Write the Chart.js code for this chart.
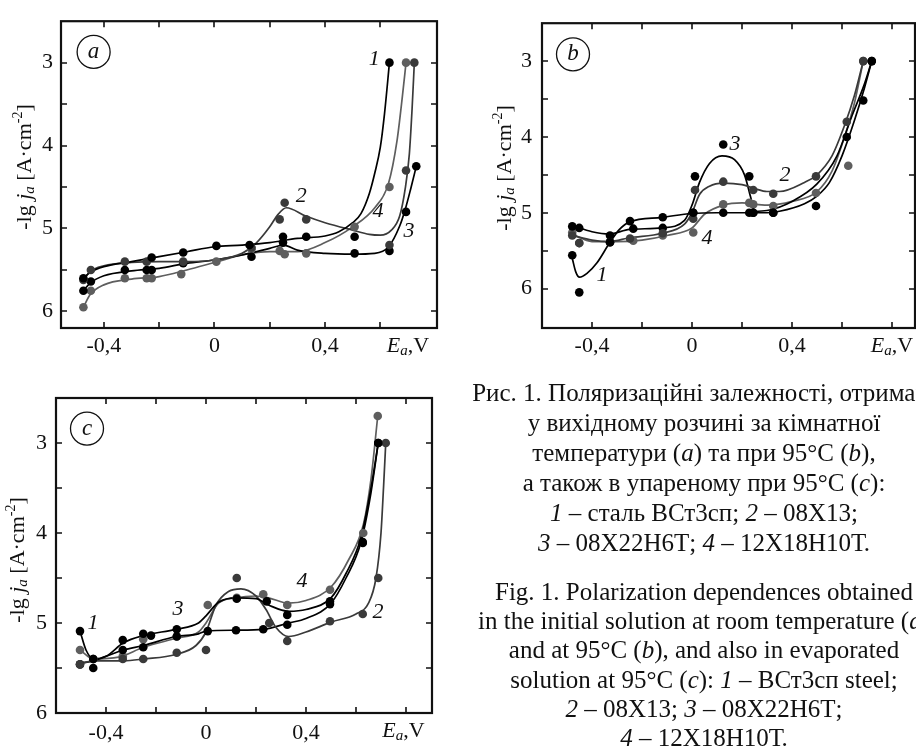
<!DOCTYPE html>
<html>
<head>
<meta charset="utf-8">
<script src="https://cdn.jsdelivr.net/npm/chart.js@4/dist/chart.umd.min.js"></script>
<style>
html,body{margin:0;padding:0;background:#fff;width:916px;height:746px;overflow:hidden;position:relative;}
canvas{position:absolute;}
.cap{position:absolute;left:354px;width:700px;text-align:center;white-space:nowrap;font-family:"Liberation Serif","Times New Roman",serif;font-size:25px;color:#111;pointer-events:none;}
</style>
</head>
<body>
<canvas id="ca" width="460" height="365" style="left:0;top:0"></canvas>
<canvas id="cb" width="456" height="365" style="left:460px;top:0"></canvas>
<canvas id="cc" width="460" height="376" style="left:0;top:370px"></canvas>
<div class="cap" style="top:378px;line-height:30px">
Рис. 1. Поляризаційні залежності, отримані<br>
у вихідному розчині за кімнатної<br>
температури (<i>a</i>) та при 95°C (<i>b</i>),<br>
а також в упареному при 95°C (<i>c</i>):<br>
<i>1</i> – сталь ВСт3сп; <i>2</i> – 08Х13;<br>
<i>3</i> – 08Х22Н6Т; <i>4</i> – 12Х18Н10Т.
</div>
<div class="cap" style="top:577px;line-height:29.2px">
Fig. 1. Polarization dependences obtained<br>
in the initial solution at room temperature (<i>a</i>)<br>
and at 95°C (<i>b</i>), and also in evaporated<br>
solution at 95°C (<i>c</i>): <i>1</i> – ВСт3сп steel;<br>
<i>2</i> – 08Х13; <i>3</i> – 08Х22Н6Т;<br>
<i>4</i> – 12Х18Н10Т.
</div>
<script>
// ---------- axis ticks ----------
const X_TICKS = [-0.4, -0.2, 0, 0.2, 0.4, 0.6, 0.8];
const X_LABELED = [-0.4, 0, 0.4];
const Y_TICKS = [3, 3.5, 4, 4.5, 5, 5.5, 6];
const Y_LABELED = [3, 4, 5, 6];
const SERIES = ['1', '2', '3', '4'];
const COLORS = ['#000000', '#3a3a3a', '#000000', '#5e5e5e'];

// ---------- panel a: measured points ----------
const aPts1 = [[-0.474,5.60],[-0.227,5.35],[-0.113,5.29],[0.007,5.21],[0.127,5.20],[0.248,5.10],[0.332,5.10],[0.507,5.10],[0.633,3.00]];
const aPts2 = [[-0.474,5.62],[-0.447,5.50],[-0.324,5.40],[-0.245,5.40],[-0.113,5.40],[0.134,5.23],[0.236,4.89],[0.254,4.69],[0.332,4.89],[0.633,5.20],[0.693,4.30],[0.723,3.00]];
const aPts3 = [[-0.474,5.75],[-0.447,5.64],[-0.324,5.50],[-0.245,5.50],[-0.227,5.50],[-0.113,5.42],[0.134,5.34],[0.248,5.17],[0.507,5.30],[0.633,5.27],[0.693,4.80],[0.730,4.25]];
const aPts4 = [[-0.474,5.95],[-0.447,5.75],[-0.324,5.60],[-0.245,5.60],[-0.227,5.60],[-0.120,5.55],[0.007,5.40],[0.134,5.25],[0.236,5.27],[0.254,5.31],[0.332,5.30],[0.507,4.98],[0.633,4.50],[0.693,3.00]];
// panel a: fitted curves
const aCur1 = [[-0.474,5.60],[-0.45,5.53],[-0.4,5.46],[-0.3,5.40],[-0.2,5.34],[-0.1,5.28],[0,5.22],[0.1,5.20],[0.2,5.17],[0.3,5.12],[0.4,5.09],[0.45,5.04],[0.5,4.93],[0.53,4.82],[0.56,4.58],[0.58,4.33],[0.6,4.02],[0.615,3.62],[0.633,3.0]];
const aCur2 = [[-0.474,5.62],[-0.45,5.52],[-0.4,5.45],[-0.3,5.41],[-0.2,5.40],[-0.1,5.40],[0,5.38],[0.1,5.30],[0.15,5.18],[0.2,4.98],[0.23,4.83],[0.26,4.75],[0.33,4.85],[0.4,4.93],[0.5,5.02],[0.56,5.07],[0.6,5.08],[0.64,5.02],[0.67,4.85],[0.69,4.52],[0.705,4.1],[0.715,3.55],[0.723,3.0]];
const aCur3 = [[-0.474,5.75],[-0.45,5.66],[-0.4,5.57],[-0.3,5.51],[-0.2,5.48],[-0.1,5.42],[0,5.38],[0.1,5.32],[0.2,5.24],[0.25,5.20],[0.3,5.26],[0.4,5.30],[0.5,5.31],[0.58,5.30],[0.63,5.22],[0.67,4.97],[0.69,4.77],[0.71,4.52],[0.73,4.25]];
const aCur4 = [[-0.474,5.95],[-0.45,5.80],[-0.4,5.68],[-0.3,5.61],[-0.2,5.58],[-0.1,5.50],[0,5.41],[0.1,5.32],[0.2,5.28],[0.3,5.28],[0.4,5.17],[0.5,4.98],[0.58,4.75],[0.63,4.45],[0.66,3.95],[0.68,3.4],[0.693,3.0]];
const aNumLabels = [['1',0.578,2.96],['2',0.314,4.61],['4',0.592,4.79],['3',0.704,5.03]];

// ---------- panel b ----------
const bPts1 = [[-0.479,5.56],[-0.451,6.05],[-0.328,5.39],[-0.248,5.11],[-0.117,5.06],[0.005,5.00],[0.125,5.00],[0.229,5.00],[0.245,5.00],[0.325,5.00],[0.496,4.91],[0.619,4.00],[0.719,3.00]];
const bPts2 = [[-0.479,5.30],[-0.451,5.40],[-0.328,5.39],[-0.248,5.34],[-0.117,5.27],[0.005,5.08],[0.012,4.70],[0.125,4.59],[0.245,4.70],[0.325,4.75],[0.496,4.52],[0.619,3.80],[0.685,3.00]];
const bPts3 = [[-0.479,5.18],[-0.451,5.20],[-0.328,5.30],[-0.235,5.21],[-0.117,5.20],[0.005,5.00],[0.012,4.52],[0.125,4.10],[0.229,4.52],[0.245,5.00],[0.325,5.00],[0.685,3.52],[0.719,3.00]];
const bPts4 = [[-0.479,5.26],[-0.451,5.40],[-0.328,5.39],[-0.235,5.37],[-0.117,5.30],[0.005,5.26],[0.125,4.89],[0.229,4.87],[0.245,4.89],[0.325,4.91],[0.496,4.74],[0.625,4.38],[0.685,3.00]];
const bCur1 = [[-0.479,5.60],[-0.465,5.78],[-0.45,5.85],[-0.42,5.80],[-0.38,5.66],[-0.33,5.40],[-0.29,5.22],[-0.25,5.12],[-0.12,5.06],[0,5.01],[0.1,5.0],[0.2,5.0],[0.3,5.0],[0.35,4.98],[0.45,4.88],[0.5,4.78],[0.55,4.6],[0.6,4.25],[0.65,3.78],[0.69,3.35],[0.719,3.0]];
const bCur2 = [[-0.479,5.30],[-0.4,5.36],[-0.33,5.38],[-0.25,5.33],[-0.12,5.27],[-0.03,5.15],[0,5.0],[0.03,4.76],[0.07,4.65],[0.125,4.61],[0.2,4.63],[0.25,4.68],[0.3,4.72],[0.35,4.72],[0.45,4.6],[0.5,4.5],[0.56,4.25],[0.61,3.85],[0.65,3.45],[0.685,3.0]];
const bCur3 = [[-0.479,5.17],[-0.4,5.25],[-0.33,5.28],[-0.25,5.22],[-0.12,5.2],[-0.03,5.1],[0,4.9],[0.03,4.6],[0.07,4.35],[0.12,4.25],[0.17,4.3],[0.21,4.5],[0.235,4.8],[0.25,4.98],[0.3,4.97],[0.4,4.85],[0.5,4.62],[0.58,4.25],[0.64,3.72],[0.69,3.3],[0.719,3.0]];
const bCur4 = [[-0.479,5.28],[-0.4,5.38],[-0.3,5.38],[-0.2,5.36],[-0.1,5.3],[0,5.2],[0.05,5.02],[0.125,4.9],[0.2,4.87],[0.3,4.9],[0.4,4.85],[0.5,4.72],[0.56,4.45],[0.61,4.0],[0.65,3.55],[0.685,3.0]];
const bNumLabels = [['3',0.172,4.09],['2',0.372,4.51],['4',0.06,5.34],['1',-0.36,5.82]];

// ---------- panel c ----------
const cPts1 = [[-0.504,5.09],[-0.451,5.40],[-0.333,5.19],[-0.251,5.12],[-0.220,5.14],[-0.117,5.07],[0.123,4.73],[0.243,4.76],[0.325,4.91],[0.496,4.76],[0.627,4.11],[0.689,3.00]];
const cPts2 = [[-0.504,5.46],[-0.451,5.40],[-0.333,5.40],[-0.251,5.40],[-0.117,5.33],[0.000,5.30],[0.123,4.50],[0.253,5.00],[0.325,5.20],[0.496,4.98],[0.627,4.90],[0.689,4.50],[0.719,3.00]];
const cPts3 = [[-0.504,5.46],[-0.451,5.50],[-0.333,5.30],[-0.251,5.27],[-0.117,5.15],[0.007,5.09],[0.120,5.08],[0.229,5.07],[0.325,5.02],[0.496,4.79],[0.627,4.10],[0.689,3.00]];
const cPts4 = [[-0.504,5.30],[-0.451,5.40],[-0.333,5.37],[-0.251,5.18],[-0.117,5.15],[0.007,4.80],[0.123,4.72],[0.229,4.68],[0.325,4.80],[0.496,4.63],[0.629,4.00],[0.687,2.70]];
const cCur1 = [[-0.504,5.09],[-0.48,5.30],[-0.45,5.40],[-0.4,5.37],[-0.33,5.22],[-0.25,5.14],[-0.12,5.07],[-0.03,5.0],[0,4.92],[0.05,4.77],[0.12,4.72],[0.2,4.73],[0.25,4.8],[0.33,4.87],[0.4,4.85],[0.5,4.72],[0.56,4.45],[0.62,4.05],[0.66,3.5],[0.689,3.0]];
const cCur2 = [[-0.504,5.45],[-0.45,5.42],[-0.33,5.42],[-0.25,5.40],[-0.12,5.35],[-0.04,5.25],[0,5.1],[0.04,4.8],[0.09,4.65],[0.14,4.62],[0.2,4.7],[0.24,4.85],[0.28,5.05],[0.33,5.15],[0.4,5.1],[0.5,4.99],[0.6,4.9],[0.65,4.78],[0.68,4.5],[0.7,4.0],[0.71,3.5],[0.719,3.0]];
const cCur3 = [[-0.504,5.45],[-0.45,5.42],[-0.33,5.3],[-0.25,5.25],[-0.12,5.15],[-0.03,5.12],[0,5.09],[0.12,5.08],[0.23,5.07],[0.33,5.0],[0.4,4.95],[0.5,4.78],[0.56,4.5],[0.62,4.1],[0.66,3.55],[0.689,3.0]];
const cCur4 = [[-0.504,5.30],[-0.45,5.40],[-0.35,5.38],[-0.25,5.27],[-0.12,5.17],[-0.03,5.1],[0,5.0],[0.05,4.78],[0.12,4.72],[0.2,4.7],[0.25,4.72],[0.33,4.78],[0.4,4.75],[0.5,4.6],[0.57,4.3],[0.63,3.9],[0.66,3.4],[0.687,2.7]];
const cNumLabels = [['1',-0.452,5.0],['3',-0.112,4.85],['4',0.384,4.54],['2',0.688,4.88]];

const FONT = '"Liberation Serif","Times New Roman",serif';

function fmtX(v){ if (Math.abs(v) < 1e-9) return '0'; return (v < 0 ? '-' : '') + Math.abs(v).toFixed(1).replace('.', ','); }
function has(arr, v){ return arr.some(a => Math.abs(a - v) < 1e-9); }

function drawRich(ctx, segs, x, y, align){
  let total = 0;
  segs.forEach(s => { ctx.font = (s.it ? 'italic ' : '') + (s.sz || 22) + 'px ' + FONT; s.w = ctx.measureText(s.t).width; total += s.w; });
  let cx = align === 'center' ? x - total / 2 : (align === 'right' ? x - total : x);
  ctx.textAlign = 'left'; ctx.textBaseline = 'middle';
  segs.forEach(s => { ctx.font = (s.it ? 'italic ' : '') + (s.sz || 22) + 'px ' + FONT; ctx.fillText(s.t, cx, y + (s.dy || 0)); cx += s.w; });
}

function decor(cfg){
  return {
    id: 'decor',
    afterDraw(chart){
      const ctx = chart.ctx, ca = chart.chartArea, xs = chart.scales.x, ys = chart.scales.y;
      ctx.save();
      ctx.strokeStyle = '#111'; ctx.fillStyle = '#111';
      // inward ticks on all four sides
      ctx.lineWidth = 1.6;
      ctx.beginPath();
      X_TICKS.forEach(v => { const p = Math.round(xs.getPixelForValue(v)); if (p <= ca.left + 2 || p >= ca.right - 2) return;
        ctx.moveTo(p, ca.bottom); ctx.lineTo(p, ca.bottom - 6); ctx.moveTo(p, ca.top); ctx.lineTo(p, ca.top + 6); });
      Y_TICKS.forEach(v => { const p = Math.round(ys.getPixelForValue(v)); if (p <= ca.top + 2 || p >= ca.bottom - 2) return;
        ctx.moveTo(ca.left, p); ctx.lineTo(ca.left + 6, p); ctx.moveTo(ca.right, p); ctx.lineTo(ca.right - 6, p); });
      ctx.stroke();
      // frame
      ctx.lineWidth = 2.2;
      ctx.strokeRect(ca.left, ca.top, ca.right - ca.left, ca.bottom - ca.top);
      // panel letter in circle
      const px = xs.getPixelForValue(cfg.letter[1]), py = ys.getPixelForValue(cfg.letter[2]);
      ctx.lineWidth = 1.3;
      ctx.beginPath(); ctx.arc(px, py, 16.5, 0, Math.PI * 2); ctx.stroke();
      drawRich(ctx, [{t: cfg.letter[0], it: 1, sz: 23}], px, py, 'center');
      // curve numbers
      cfg.nums.forEach(n => drawRich(ctx, [{t: n[0], it: 1, sz: 22}], xs.getPixelForValue(n[1]), ys.getPixelForValue(n[2]), 'center'));
      // x axis name
      drawRich(ctx, [{t: 'E', it: 1}, {t: 'a', it: 1, sz: 15, dy: 5}, {t: ',V'}], xs.getPixelForValue(cfg.exLabel), ca.bottom + 18, 'center');
      // y axis title (rotated)
      ctx.translate(cfg.title[0], cfg.title[1]);
      ctx.rotate(-Math.PI / 2);
      drawRich(ctx, [{t: '-lg '}, {t: 'j', it: 1}, {t: 'a', it: 1, sz: 15, dy: 5}, {t: ' [A·cm'}, {t: '-2', sz: 14, dy: -7}, {t: ']'}], 0, 0, 'center');
      ctx.restore();
    }
  };
}

function makeChart(id, cfg){
  const datasets = [];
  cfg.pts.forEach((p, i) => datasets.push({
    type: 'scatter', label: SERIES[i], data: p.map(([x, y]) => ({x, y})),
    backgroundColor: COLORS[i], borderWidth: 0, pointRadius: 4.3, order: 1
  }));
  cfg.curves.forEach((c, i) => datasets.push({
    type: 'line', label: SERIES[i], data: c.map(([x, y]) => ({x, y})),
    borderColor: COLORS[i], borderWidth: 1.7, pointRadius: 0, fill: false,
    cubicInterpolationMode: 'monotone', order: 2
  }));
  const tickFont = {family: FONT, size: 22};
  new Chart(document.getElementById(id), {
    type: 'scatter',
    data: {datasets},
    options: {
      responsive: false, animation: false, events: [],
      layout: {padding: cfg.padding, autoPadding: false},
      plugins: {legend: {display: false}, tooltip: {enabled: false}},
      scales: {
        x: {
          type: 'linear', min: cfg.x[0], max: cfg.x[1],
          grid: {display: false, drawTicks: false}, border: {display: false},
          afterBuildTicks: s => { s.ticks = X_TICKS.map(v => ({value: v})); },
          afterFit: s => { s.height = cfg.xh; },
          ticks: {autoSkip: false, maxRotation: 0, padding: cfg.xpad, color: '#111', font: tickFont,
                  callback: v => has(X_LABELED, v) ? fmtX(v) : ''}
        },
        y: {
          type: 'linear', reverse: true, min: cfg.y[0], max: cfg.y[1],
          grid: {display: false, drawTicks: false}, border: {display: false},
          afterBuildTicks: s => { s.ticks = Y_TICKS.map(v => ({value: v})); },
          afterFit: s => { s.width = cfg.yw; },
          ticks: {autoSkip: false, padding: cfg.ypad, color: '#111', font: tickFont,
                  callback: v => has(Y_LABELED, v) ? String(v) : ''}
        }
      }
    },
    plugins: [decor(cfg)]
  });
}

makeChart('ca', {
  pts: [aPts1, aPts2, aPts3, aPts4], curves: [aCur1, aCur2, aCur3, aCur4],
  x: [-0.555, 0.805], y: [2.5, 6.2], padding: {top: 13, right: 23, left: 0, bottom: 0},
  yw: 61, xh: 37, xpad: 5, ypad: 8, letter: ['a', -0.437, 2.87], nums: aNumLabels, exLabel: 0.70, title: [25, 167]
});
makeChart('cb', {
  pts: [bPts1, bPts2, bPts3, bPts4], curves: [bCur1, bCur2, bCur3, bCur4],
  x: [-0.6, 0.892], y: [2.5, 6.52], padding: {top: 13, right: 1, left: 0, bottom: 0},
  yw: 82, xh: 37, xpad: 5, ypad: 10, letter: ['b', -0.476, 2.91], nums: bNumLabels, exLabel: 0.80, title: [45, 168]
});
makeChart('cc', {
  pts: [cPts1, cPts2, cPts3, cPts4], curves: [cCur1, cCur2, cCur3, cCur4],
  x: [-0.6, 0.904], y: [2.5, 6.0], padding: {top: 28, right: 28, left: 0, bottom: 0},
  yw: 56, xh: 33, xpad: 7, ypad: 9, letter: ['c', -0.476, 2.84], nums: cNumLabels, exLabel: 0.79, title: [18, 190]
});
</script>
</body>
</html>
